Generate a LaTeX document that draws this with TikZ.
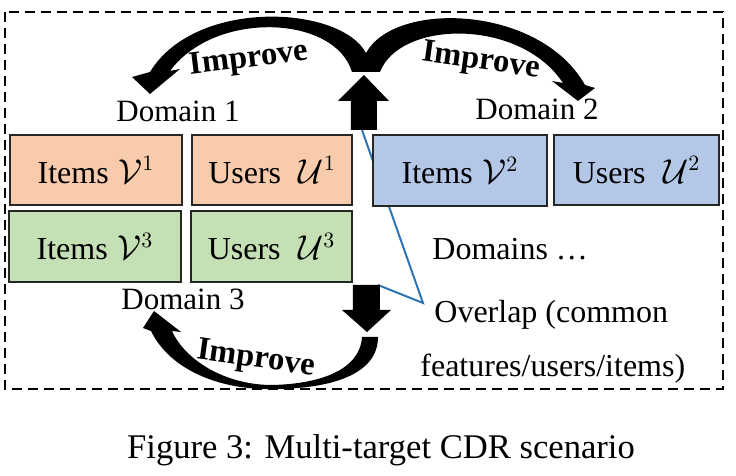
\documentclass[tikz,border=0pt]{standalone}
\usepackage{fontspec}
\setmainfont{Liberation Serif}
\definecolor{orfill}{HTML}{F8CBAD}
\definecolor{grfill}{HTML}{C5E0B4}
\definecolor{blfill}{HTML}{B4C7E7}
\definecolor{boxline}{HTML}{262626}
\definecolor{ovblue}{HTML}{2E75B6}
\tikzset{
  cell/.style={draw=boxline, line width=0.8pt, inner sep=0pt, font=\fontsize{16}{19}\selectfont},
  txt/.style={font=\fontsize{16}{19}\selectfont, inner sep=0pt},
  dom/.style={font=\fontsize{15.5}{18}\selectfont, inner sep=0pt, anchor=base},
  imp/.style={font=\fontsize{16.3}{19}\selectfont\bfseries, inner sep=0pt},
  blk/.style={fill=black, draw=none},
  ovl/.style={draw=ovblue, line width=1pt},
  frame/.style={draw=black, line width=1pt, dash pattern=on 5pt off 3pt},
}
\begin{document}
\begin{tikzpicture}[x=0.5pt,y=-0.5pt]
\useasboundingbox (0,0) rectangle (736,476);
% dashed frame
\draw[frame] (5,12) rectangle (723,389);
% overlap line (behind boxes)
\coordinate (ov1) at (362,130);
\coordinate (ov2) at (423,303);
\coordinate (ov3) at (378,285);
\draw[ovl] (ov1) -- (ov2) -- (ov3);
% boxes
\node[cell, fill=orfill, minimum width=86pt, minimum height=35pt] (V1) at (96,170) {Items\hspace{0.3em}$\mathcal{V}^1$};
\node[cell, fill=orfill, minimum width=80pt, minimum height=35pt] (U1) at (272,170) {Users\hspace{0.55em}$\mathcal{U}^1$};
\node[cell, fill=grfill, minimum width=86pt, minimum height=35.5pt] (V3) at (95,246.5) {Items\hspace{0.3em}$\mathcal{V}^3$};
\node[cell, fill=grfill, minimum width=80.5pt, minimum height=35.5pt] (U3) at (271.5,246.5) {Users\hspace{0.55em}$\mathcal{U}^3$};
\node[cell, fill=blfill, minimum width=87pt, minimum height=35.5pt] (V2) at (460,170.5) {Items\hspace{0.3em}$\mathcal{V}^2$};
\node[cell, fill=blfill, minimum width=82.5pt, minimum height=35pt] (U2) at (636.5,170) {Users\hspace{0.55em}$\mathcal{U}^2$};
% domain labels
\node[dom] (d1) at (178,122) {Domain 1};
\node[dom] (d2) at (537,120) {Domain 2};
\node[dom] (d3) at (183,310) {Domain 3};
\node[txt, anchor=base west] (dm) at (432,260) {Domains …};
\node[txt, anchor=base west] (ol1) at (434,323) {Overlap (common};
\node[txt, anchor=base west] (ol2) at (420,377) {features/users/items)};
% block arrows
\fill[blk] (351,130) -- (351,101) -- (338,101) -- (364,75) -- (389,101) -- (377,101) -- (377,130) -- cycle;
\fill[blk] (353,285) -- (353,310) -- (342,310) -- (367,332) -- (391,310) -- (380,310) -- (380,285) -- cycle;
% curved arrows top
\fill[blk] (352,72) .. controls (335,15) and (215,10) .. (170,71) -- (180,69) -- (150,94) -- (132,77) -- (150,72) .. controls (195,-2) and (340,5) .. (366,53) -- (366,72) -- cycle;
\fill[blk] (366,72) -- (366,53) .. controls (395,0) and (540,5) .. (585,85) -- (595,88) -- (578,101) -- (552,81) -- (563,83) .. controls (520,18) and (400,20) .. (380,72) -- cycle;
% curved arrow bottom
\fill[blk] (362,337) .. controls (360,370) and (320,384) .. (272,385) .. controls (225,385) and (185,360) .. (172,331) -- (181,332) -- (154,311) -- (143,328) -- (151,331) .. controls (170,370) and (220,390) .. (272,389) .. controls (330,389) and (378,375) .. (378,337) -- cycle;
% improve labels
\node[imp, rotate=7] (i1) at (249,60) {Improve};
\node[imp, rotate=-8] (i2) at (481,62) {Improve};
\node[imp, rotate=-8] (i3) at (256,360) {Improve};
% caption
\node[font=\fontsize{17.3}{20}\selectfont, inner sep=0pt, anchor=base] (cap) at (381,459) {Figure 3: Multi-target CDR scenario};
\end{tikzpicture}
\end{document}
